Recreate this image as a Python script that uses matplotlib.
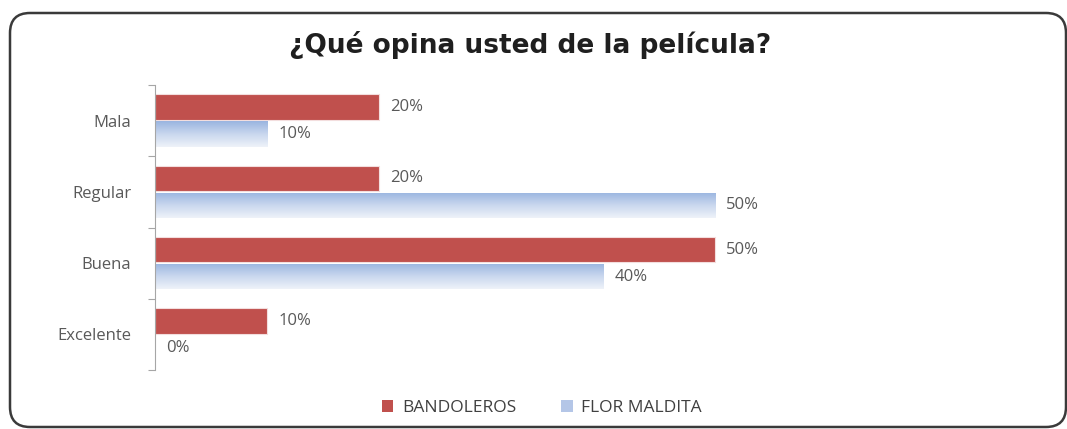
import matplotlib.pyplot as plt
import numpy as np
from matplotlib.patches import FancyBboxPatch, Patch
from matplotlib.colors import LinearSegmentedColormap

plt.rcParams['font.family'] = ['Open Sans', 'DejaVu Sans']
plt.rcParams['font.stretch'] = 'normal'

categorias = ["Excelente", "Buena", "Regular", "Mala"]
bandoleros = [0.10, 0.50, 0.20, 0.20]
flor_maldita = [0.00, 0.40, 0.50, 0.10]
series = ["BANDOLEROS", "FLOR MALDITA"]

rojo = "#c0504d"
azul_top = "#9ab5e0"
azul_bottom = "#eef2f9"
gris = "#595959"

W, H = 1067, 429
fig = plt.figure(figsize=(W / 100, H / 100), dpi=100)

# background axes in pixel units for the rounded frame
fondo = fig.add_axes([0, 0, 1, 1], zorder=-5)
fondo.set_xlim(0, W)
fondo.set_ylim(0, H)
fondo.axis("off")
marco = FancyBboxPatch((10, 2), 1056, H - 15, boxstyle="round,pad=0,rounding_size=20",
                       facecolor="white", edgecolor="#3a3a3a", linewidth=1.8)
fondo.add_patch(marco)

ax = fig.add_axes([155 / W, 1 - 370 / H, 885 / W, 285 / H])
ax.set_facecolor("none")

y = np.arange(len(categorias))
h = 0.36
off = 0.19

ax.barh(y + off, bandoleros, height=h, color=rojo, edgecolor="#f3dede", linewidth=0.8, zorder=2)
barras_azules = ax.barh(y - off, flor_maldita, height=h, color="none", edgecolor="none", zorder=2)

# vertical gradient fill for the second series
cmap = LinearSegmentedColormap.from_list("azul", [azul_bottom, "#c9d7ee", azul_top])
grad = np.linspace(0, 1, 64).reshape(-1, 1)
for b, v in zip(barras_azules, flor_maldita):
    if v <= 0:
        continue
    y0 = b.get_y()
    im = ax.imshow(grad, cmap=cmap, aspect="auto", origin="lower",
                   extent=(0, v, y0, y0 + b.get_height()), zorder=2)
    im.set_clip_path(b)

for yi, v in zip(y, bandoleros):
    ax.text(v + 0.01, yi + off, f"{int(round(v * 100))}%", va="center", ha="left",
            fontsize=12, color=gris)
for yi, v in zip(y, flor_maldita):
    ax.text(v + 0.01, yi - off, f"{int(round(v * 100))}%", va="center", ha="left",
            fontsize=12, color=gris)

ax.set_xlim(0, 0.79)
ax.set_ylim(-0.5, len(categorias) - 0.5)
ax.set_xticks([])
ax.set_yticks(y)
ax.set_yticklabels(categorias, fontsize=12, color=gris)
ax.set_yticks(np.arange(-0.5, len(categorias)), minor=True)
ax.tick_params(axis="y", which="major", length=0, pad=17)
ax.tick_params(axis="y", which="minor", length=5, color="#a6a6a6", width=0.8)
for s in ["top", "right", "bottom"]:
    ax.spines[s].set_visible(False)
ax.spines["left"].set_color("#a6a6a6")
ax.spines["left"].set_linewidth(0.8)

fig.text(0.497, 1 - 45 / H, "¿Qué opina usted de la película?", ha="center", va="center",
         fontsize=19, fontweight="bold", family=["DejaVu Sans"], color="#1f1f1f")

handles = [Patch(facecolor=rojo, edgecolor="none"), Patch(facecolor="#b4c6e7", edgecolor="none")]
fig.legend(handles, series, loc="center", bbox_to_anchor=(0.508, 1 - 408 / H), ncol=2,
           frameon=False, fontsize=12.5, handlelength=0.65, handleheight=0.65,
           handletextpad=0.5, columnspacing=2.6, labelcolor="#404040")

fig.savefig("out.png", dpi=100)
